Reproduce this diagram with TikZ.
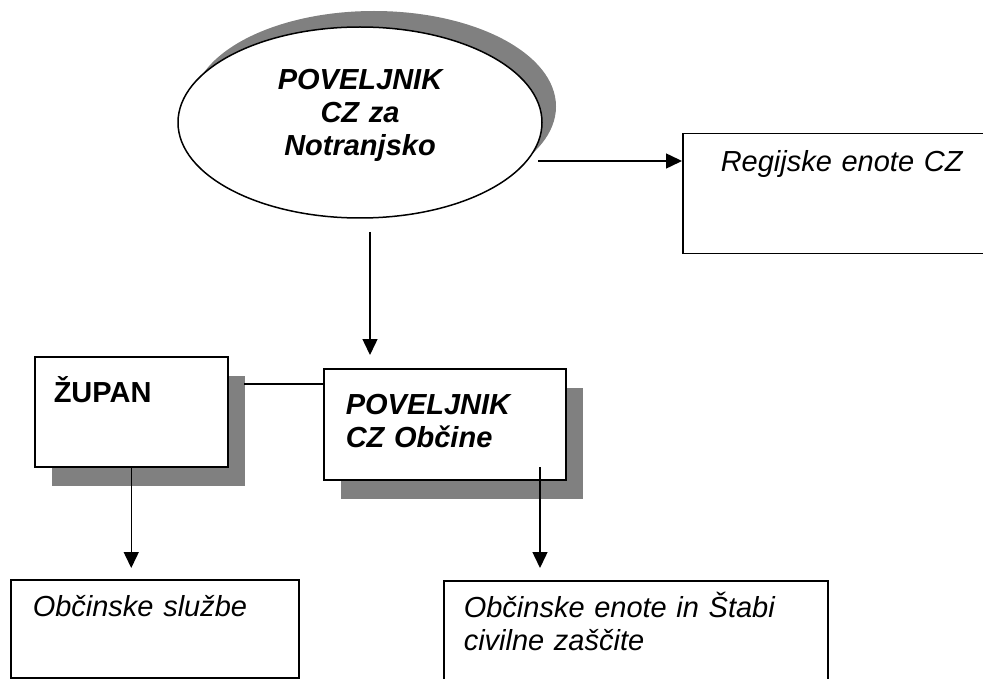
\documentclass[tikz,border=0pt]{standalone}
\usepackage{fontspec}
\setmainfont{Liberation Sans}
\usetikzlibrary{shapes.geometric,shadows,arrows.meta}
\definecolor{shgray}{RGB}{128,128,128}

\begin{document}
\begin{tikzpicture}[x=1pt,y=-1pt,line width=1.5pt,font=\fontsize{29}{33}\selectfont,
	box/.style={draw,fill=white,rectangle,anchor=north west,inner sep=0pt,align=left},
	shbox/.style={box,drop shadow={shadow xshift=17pt,shadow yshift=-19pt,fill=shgray,opacity=1}},
	arr/.style={-{Triangle[length=16pt,width=15pt]}}]
		\useasboundingbox (0,0) rectangle (983,679);
		\node[ellipse,draw,fill=white,inner sep=0pt,minimum width=364pt,minimum height=191pt,
			text width=220pt,align=center,text height=25pt,text depth=90pt,
			drop shadow={shadow xshift=14pt,shadow yshift=16pt,fill=shgray,opacity=1}]
			(kom) at (360,122.5) {\bfseries\itshape POVELJNIK\\CZ za\\Notranjsko};
		\node[box,text width=254pt,inner xsep=38pt,text height=38pt,text depth=82pt] (reg) at (682,133) {\itshape Regijske enote CZ};
		\node[shbox,text width=155pt,inner xsep=19pt,text height=46pt,text depth=64pt] (zupan) at (34,356) {\bfseries ŽUPAN};
		\node[shbox,text width=198pt,inner xsep=22pt,text height=46pt,text depth=65pt] (pov) at (323,368) {\bfseries\itshape POVELJNIK\\CZ Občine};
		\node[box,text width=244pt,inner xsep=22pt,text height=37pt,text depth=61pt] (obc) at (10,579) {\itshape Občinske službe};
		\node[box,text width=344pt,inner xsep=20pt,text height=37pt,text depth=80pt] (enote) at (443,580) {\itshape Občinske enote in Štabi\\civilne zaščite};
		
		\coordinate (k1) at (538,161);
		\coordinate (k2) at (370,232);
		\coordinate (z1) at (244,384);
		\coordinate (p1) at (540,467);
		\draw[arr] (k1) -- (k1 -| reg.west);
		\draw[arr] (k2) -- ([yshift=13pt]k2 |- pov.north);
		\draw (z1) -- (z1 -| pov.west);
		\draw[arr] (zupan.south) -- ([yshift=11pt]zupan.south |- obc.north);
		\draw[arr] (p1) -- ([yshift=12pt]p1 |- enote.north);
	\end{tikzpicture}
\end{document}
